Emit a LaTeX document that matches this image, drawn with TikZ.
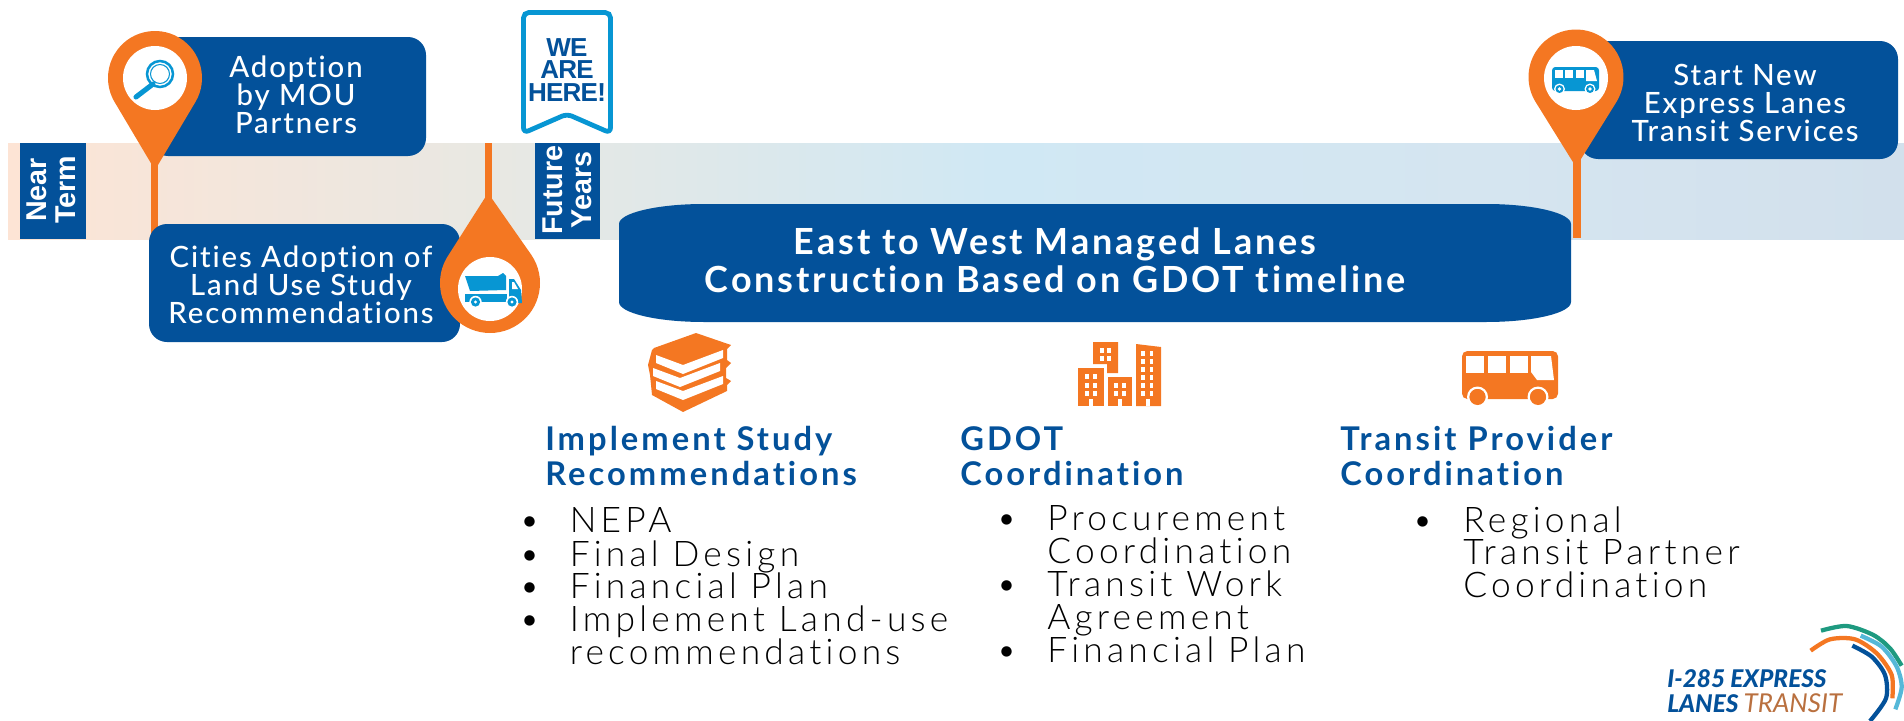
\documentclass[tikz,border=0pt]{standalone}
\usepackage{fontspec}
\usetikzlibrary{calc}
\setmainfont{Lato}
\newfontfamily\lblfont[LetterSpace=6.5,Ligatures=NoCommon]{Lato Medium}
\newfontfamily\headfont[LetterSpace=9.3,Ligatures=NoCommon]{Lato Bold}
\newfontfamily\mainfont[LetterSpace=8,Ligatures=NoCommon]{Lato Bold}
\newfontfamily\bodyfont[LetterSpace=12,Ligatures=NoCommon]{Lato Light}
\newfontfamily\helv{Liberation Sans}
\newfontfamily\herefont[LetterSpace=-3]{Liberation Sans}
\newfontfamily\logoA{Lato Black Italic}
\newfontfamily\logoB{Lato Italic}
\definecolor{navy}{HTML}{03519A}
\definecolor{pinor}{HTML}{F47722}
\definecolor{cyanic}{HTML}{0796D3}
\definecolor{bandA}{HTML}{FDE4D5}
\definecolor{bandB}{HTML}{E8E8E3}
\definecolor{bandC}{HTML}{D0E8F4}
\definecolor{bandD}{HTML}{D5E5F0}
\definecolor{bandE}{HTML}{D2E0EC}
\definecolor{logoG}{HTML}{1E9A80}
\definecolor{logoC}{HTML}{55B8D8}
\definecolor{logoT}{HTML}{B9703F}
\pgfdeclarehorizontalshading{bandshade}{100bp}{color(0bp)=(bandA);color(25bp)=(bandA);color(38bp)=(bandB);color(51bp)=(bandC);color(64bp)=(bandD);color(75bp)=(bandE);color(100bp)=(bandE)}
\tikzset{
  callout/.style={fill=navy,rounded corners=13.5pt},
  calltext/.style={text=white,align=center,inner sep=0pt,font=\lblfont\fontsize{22}{21}\selectfont},
  sidelabel/.style={text=white,align=center,inner sep=0pt,rotate=90,font=\helv\bfseries\fontsize{21.5}{21.5}\selectfont},
  headtext/.style={text=navy,anchor=base west,inner sep=0pt,font=\headfont\fontsize{24.5}{26}\selectfont},
  bodytext/.style={text=black,anchor=base west,inner sep=0pt,font=\bodyfont\fontsize{26.5}{25}\selectfont},
  pinfill/.style={fill=pinor},
}
\newcommand{\pindown}[4]{% cx cy r tipdist
  \pgfmathsetmacro{\th}{acos(#3/#4)}
  \fill[pinfill] (#1,#2+#4) -- ($(#1,#2)+(90-\th:#3)$) arc[start angle=90-\th,end angle=-270+\th,radius=#3] -- cycle;
}
\begin{document}
\begin{tikzpicture}[x=0.75pt,y=-0.75pt]
\useasboundingbox (0,0) rectangle (1904,721);
% band
\shade[shading=bandshade] (8,143) rectangle (1904,239);
% side labels
\fill[navy] (20,143) rectangle (86,239);
\node[sidelabel] (near) at (51,190) {Near\\Term};
\fill[navy] (535,143) rectangle (600,239);
\node[sidelabel] (future) at (567.5,190) {Future\\Years};
% bookmark
\draw[cyanic,line width=3.6pt,rounded corners=4pt,fill=white] (523.5,12.5) -- (610.5,12.5) -- (610.5,133) -- (567,114) -- (523.5,133) -- cycle;
\node[text=navy,align=center,inner sep=0pt,font=\herefont\bfseries\fontsize{19.5}{16.8}\selectfont] (here) at (567,70) {WE\\[0pt]ARE\\HERE!};
% stems
\fill[pinor] (150.5,150) rectangle (158,240);
\fill[pinor] (484.5,143) rectangle (492,205);
\fill[pinor] (1573,150) rectangle (1581,238);
% callouts
\fill[callout] (150,37) rectangle (426,156);
\node[calltext] (adopt) at (296,95) {Adoption\\by MOU\\Partners};
\fill[callout] (149,224) rectangle (460,342);
\node[calltext] (cities) at (301,285) {Cities Adoption of\\Land Use Study\\Recommendations};
\fill[callout] (1580,41) rectangle (1898,159);
\node[calltext] (start) at (1745,103) {Start New\\Express Lanes\\Transit Services};
% main bar
\fill[navy] (619,224) arc[x radius=85,y radius=20,start angle=180,end angle=270] -- (1486,204) arc[x radius=85,y radius=20,start angle=270,end angle=360] -- (1571,302) arc[x radius=85,y radius=20,start angle=0,end angle=90] -- (704,322) arc[x radius=85,y radius=20,start angle=90,end angle=180] -- cycle;
\node[text=white,align=center,inner sep=0pt,font=\mainfont\fontsize{27}{28.5}\selectfont] (mainbar) at (1055,260) {East to West Managed Lanes\\Construction Based on GDOT timeline};
% pins
\pindown{155}{78}{47}{92}
\fill[white] (155,78) circle[radius=32];
\pindown{1576}{77}{47.5}{90}
\fill[white] (1576,78) circle[radius=32];
\fill[pinfill] (488,193) -- ($(490,283)+(-34:50)$) arc[start angle=-34,end angle=214,radius=50] -- cycle;
\fill[white] (490,289) circle[radius=32];
% magnifier
\draw[cyanic,line width=1.9pt] (160,74) circle[radius=13];
\draw[cyanic,line width=0.8pt] (160,74) circle[radius=9.5];
\draw[cyanic,line width=3.8pt,line cap=round] (153,84) -- (136,97);
% truck
\fill[cyanic] (465,276) -- (498,276) -- (503,273) -- (506,276) -- (506,290) -- (470,291) -- cycle;
\fill[cyanic] (465,294) rectangle (507,302);
\fill[cyanic] (509,279) -- (514,279) -- (521,290) -- (522,303) -- (509,303) -- cycle;
\fill[white] (512,282) -- (514,282) -- (518,289) -- (512,289) -- cycle;
\foreach \wx in {475.5,512}{\fill[white] (\wx,302) circle[radius=6.2];\fill[cyanic] (\wx,302) circle[radius=4.6];\fill[white] (\wx,302) circle[radius=1.6];}
% small bus
\fill[cyanic,rounded corners=2.5pt] (1552,67) rectangle (1599,91);
\foreach \wa/\wb in {1555/1563,1565/1573,1576/1584}{\fill[white] (\wa,70) rectangle (\wb,78);}
\fill[white] (1586,70) -- (1594,70) -- (1597,81) -- (1586,81) -- cycle;
\foreach \wx in {1559.5,1590}{\fill[white] (\wx,89) circle[radius=5.5];\fill[cyanic] (\wx,89) circle[radius=4];\fill[white] (\wx,89) circle[radius=1.8];}
% books
\fill[pinor] (696,333) -- (731,345) -- (727,349) -- (727,360) -- (731,363) -- (726,368) -- (726,378) -- (731,381) -- (727,385) -- (727,391) -- (683,412) -- (652,395) -- (650,375) -- (648,365) -- (652,350) -- (654,348) -- cycle;
\foreach \ox/\oy in {0/0,-3/13,0/26}{\fill[white] ($(656,355)+(\ox,\oy)$) -- ($(683,365)+(\ox,\oy)$) -- ($(723,350)+(\ox,\oy)$) -- ($(723,358)+(\ox,\oy)$) -- ($(683,374)+(\ox,\oy)$) -- ($(656,363)+(\ox,\oy)$) -- cycle;}
% city
\fill[pinor] (1093,342) -- (1118,342) -- (1118,373) -- (1107,373) -- (1107,364) -- (1093,364) -- cycle;
\fill[pinor] (1136,344) -- (1161,347) -- (1161,406) -- (1136,406) -- cycle;
\fill[pinor] (1078,368) rectangle (1104,406);
\fill[pinor] (1108,377) rectangle (1132,406);
\foreach \wx in {1100,1107}\foreach \wy in {348,356}{\fill[white] (\wx,\wy) rectangle +(3.5,4.5);}
\foreach \wx in {1141,1149.5}\foreach \wy in {351,359,367,375,383,391}{\fill[white] (\wx,\wy) rectangle +(3.5,4.5);}
\foreach \wx in {1085,1093}\foreach \wy in {374,383,391}{\fill[white] (\wx,\wy) rectangle +(3.5,4.5);}
\foreach \wx in {1114,1122}\foreach \wy in {383,391}{\fill[white] (\wx,\wy) rectangle +(3.5,4.5);}
\foreach \wx in {1088.5,1117.5,1146}{\fill[white] (\wx,399) rectangle +(4,7);}
% big bus
\fill[pinor,rounded corners=4pt] (1462,351) rectangle (1558,399);
\foreach \wa/\wb in {1466/1484,1488/1506,1510/1528}{\fill[white] (\wa,356) rectangle (\wb,373);}
\fill[white] (1531,356) -- (1551,356) -- (1554,380) -- (1537,380) -- (1531,372) -- cycle;
\foreach \wx in {1477.5,1538}{\fill[white] (\wx,397) circle[radius=10.5];\fill[pinor] (\wx,397) circle[radius=8];}
\fill[white] (1462,399.5) rectangle (1558,406);
\foreach \wx in {1477.5,1538}{\fill[pinor] (\wx,397) circle[radius=8];}
% headings
\node[headtext] (h1a) at (545,450) {Implement Study};
\node[headtext] (h1b) at (545,485) {Recommendations};
\node[headtext] (h2a) at (960,450) {GDOT};
\node[headtext] (h2b) at (960,485) {Coordination};
\node[headtext] (h3a) at (1340,450) {Transit Provider};
\node[headtext] (h3b) at (1340,485) {Coordination};
% lists
\node[bodytext] (b1) at (519,532) {•};
\node[bodytext] (l1) at (569.5,532) {NEPA};
\node[bodytext] (b2) at (519,566) {•};
\node[bodytext] (l2) at (569.5,566) {Final Design};
\node[bodytext] (b3) at (519,598) {•};
\node[bodytext] (l3) at (569.5,598) {Financial Plan};
\node[bodytext] (b4) at (519,631) {•};
\node[bodytext] (l4) at (569.5,631) {Implement Land-use};
\node[bodytext] (l5) at (569.5,664) {recommendations};
\node[bodytext] (c1) at (996,530) {•};
\node[bodytext] (m1) at (1047,530) {Procurement};
\node[bodytext] (m2) at (1047,563) {Coordination};
\node[bodytext] (c2) at (996,596) {•};
\node[bodytext] (m3) at (1047,596) {Transit Work};
\node[bodytext] (m4) at (1047,629) {Agreement};
\node[bodytext] (c3) at (996,662) {•};
\node[bodytext] (m5) at (1047,662) {Financial Plan};
\node[bodytext] (d1) at (1412,532) {•};
\node[bodytext] (n1) at (1463,532) {Regional};
\node[bodytext] (n2) at (1463,564) {Transit Partner};
\node[bodytext] (n3) at (1463,597) {Coordination};
% logo
\begin{scope}[x=0.25pt,y=-0.25pt,shift={(1640*3,600*3)},line cap=butt]
\draw[logoG,line width=3.2pt] plot[smooth] coordinates {(543,92) (620,78) (700,105) (750,145) (785,197)};
\draw[logoC,line width=3.2pt] plot[smooth] coordinates {(662,107) (725,140) (770,200) (785,262) (766,328)};
\draw[pinor,line width=3.2pt] plot[smooth] coordinates {(512,152) (570,118) (645,118) (710,160) (755,225) (757,295)};
\draw[navy,line width=3.2pt] plot[smooth] coordinates {(637,137) (695,170) (735,225) (738,295) (690,363)};
\end{scope}
\node[anchor=base west,inner sep=0pt,text=navy,font=\logoA\fontsize{18.3}{19}\selectfont] (logo1) at (1667,687) {I-285 EXPRESS};
\node[anchor=base west,inner sep=0pt,text=navy,font=\logoA\fontsize{18.3}{19}\selectfont] (logo2) at (1667,712) {LANES \textcolor{logoT}{\logoB\fontsize{19.5}{19}\selectfont TRANSIT}};
\end{tikzpicture}
\end{document}
